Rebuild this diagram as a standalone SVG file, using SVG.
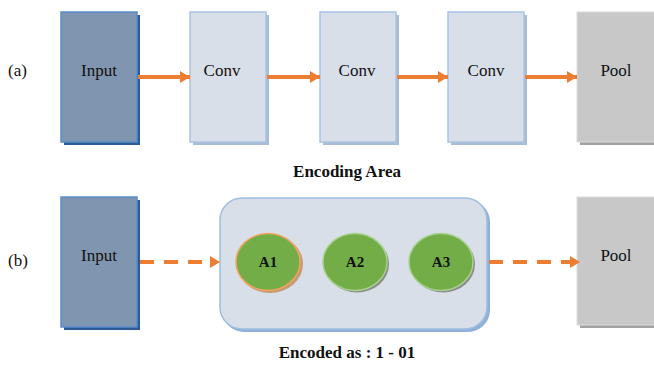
<svg xmlns="http://www.w3.org/2000/svg" width="654" height="367" viewBox="0 0 654 367">
<defs>
<style>
.inp{fill:#8096b0;stroke:#5a8ccc;stroke-width:1.5;}
.inps{fill:#2c5c96;}
.conv{fill:#d9dfe9;stroke:#a9c4e4;stroke-width:1.5;}
.convs{fill:#a9bcd4;}
.pool{fill:#c8c8c8;stroke:#dcdcdc;stroke-width:1;}
.pools{fill:#a2a2a2;}
.arr{stroke:#ed7d31;stroke-width:4;fill:none;}
.dash{stroke:#ed7d31;stroke-width:4;fill:none;stroke-dasharray:14 10;}
.grn{fill:#72ad47;}
</style>
<marker id="ah" markerWidth="10" markerHeight="12" refX="10" refY="6" orient="auto" markerUnits="userSpaceOnUse">
<path d="M0,0 L10,6 L0,12 Z" fill="#ed7d31"/>
</marker>
</defs>
<g font-family="Liberation Serif" font-size="17" fill="#111">
<text x="8" y="76">(a)</text>
<text x="8" y="266">(b)</text>
</g>
<g id="input-a">
<rect class="inps" x="64" y="15" width="76" height="130"/>
<rect class="inp" x="61" y="12" width="76" height="130"/>
<text x="99" y="76" text-anchor="middle" font-family="Liberation Serif" font-size="17" fill="#111">Input</text>
</g>
<g id="conv1">
<rect class="convs" x="193" y="15" width="76" height="130"/>
<rect class="conv" x="190" y="12" width="76" height="130"/>
<text x="222" y="76" text-anchor="middle" font-family="Liberation Serif" font-size="17" fill="#111">Conv</text>
</g>
<g id="conv2">
<rect class="convs" x="323" y="15" width="76" height="130"/>
<rect class="conv" x="320" y="12" width="76" height="130"/>
<text x="357" y="76" text-anchor="middle" font-family="Liberation Serif" font-size="17" fill="#111">Conv</text>
</g>
<g id="conv3">
<rect class="convs" x="451" y="15" width="76" height="130"/>
<rect class="conv" x="448" y="12" width="76" height="130"/>
<text x="486" y="76" text-anchor="middle" font-family="Liberation Serif" font-size="17" fill="#111">Conv</text>
</g>
<g id="pool-a">
<rect class="pools" x="580" y="15" width="80" height="130"/>
<rect class="pool" x="577" y="12" width="80" height="130"/>
<text x="616" y="76" text-anchor="middle" font-family="Liberation Serif" font-size="17" fill="#111">Pool</text>
</g>
<text x="347" y="177" text-anchor="middle" font-family="Liberation Serif" font-size="17" font-weight="bold" fill="#111">Encoding Area</text>
<g id="input-b">
<rect class="inps" x="64" y="200" width="76" height="130"/>
<rect class="inp" x="61" y="197" width="76" height="130"/>
<text x="99" y="261" text-anchor="middle" font-family="Liberation Serif" font-size="17" fill="#111">Input</text>
</g>
<g id="encoding-area">
<rect x="222" y="200" width="268" height="132" rx="22" fill="#8fb0d8"/>
<rect x="220" y="198" width="267" height="131" rx="22" fill="#d9dfe9" stroke="#9dbde2" stroke-width="1.5"/>
</g>
<g id="a1">
<ellipse cx="270" cy="264" rx="33" ry="29" fill="#c69a72"/>
<ellipse class="grn" cx="268" cy="262" rx="32" ry="28.5" stroke="#f4a460" stroke-width="1.5"/>
<text x="268" y="267" text-anchor="middle" font-family="Liberation Serif" font-size="15" font-weight="bold" fill="#111">A1</text>
</g>
<g id="a2">
<ellipse cx="357" cy="264" rx="32" ry="28.5" fill="#8c8c8c"/>
<ellipse class="grn" cx="355" cy="262" rx="32" ry="28.5" stroke="#a9d18e" stroke-width="1.5"/>
<text x="355" y="267" text-anchor="middle" font-family="Liberation Serif" font-size="15" font-weight="bold" fill="#111">A2</text>
</g>
<g id="a3">
<ellipse cx="443" cy="264" rx="32" ry="28.5" fill="#8c8c8c"/>
<ellipse class="grn" cx="441" cy="262" rx="32" ry="28.5" stroke="#a9d18e" stroke-width="1.5"/>
<text x="441" y="267" text-anchor="middle" font-family="Liberation Serif" font-size="15" font-weight="bold" fill="#111">A3</text>
</g>
<g id="pool-b">
<rect class="pools" x="580" y="200" width="80" height="128"/>
<rect class="pool" x="577" y="197" width="80" height="128"/>
<text x="616" y="261" text-anchor="middle" font-family="Liberation Serif" font-size="17" fill="#111">Pool</text>
</g>
<text x="347" y="358" text-anchor="middle" font-family="Liberation Serif" font-size="17" font-weight="bold" fill="#111">Encoded as : 1 - 01</text>
<g id="connectors">
<line class="arr" x1="138" y1="77" x2="190" y2="77" marker-end="url(#ah)"/>
<line class="arr" x1="267" y1="77" x2="320" y2="77" marker-end="url(#ah)"/>
<line class="arr" x1="397" y1="77" x2="448" y2="77" marker-end="url(#ah)"/>
<line class="arr" x1="525" y1="77" x2="577" y2="77" marker-end="url(#ah)"/>
<line class="dash" x1="140" y1="262" x2="210" y2="262"/>
<path d="M210,256 L220,262 L210,268 Z" fill="#ed7d31"/>
<line class="dash" x1="489" y1="262" x2="570" y2="262"/>
<path d="M570,256 L580,262 L570,268 Z" fill="#ed7d31"/>
</g>
</svg>
